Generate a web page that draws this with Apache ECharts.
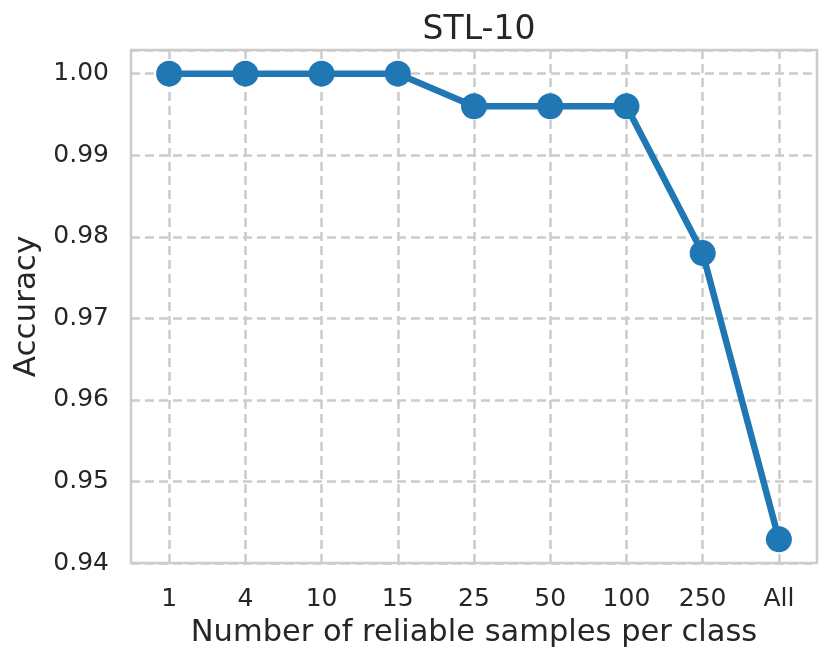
<!DOCTYPE html>
<html>
<head>
<meta charset="utf-8">
<script src="https://cdn.jsdelivr.net/npm/echarts@6/dist/echarts.min.js"></script>
<style>
  html, body { margin: 0; padding: 0; background: #fff; }
  #chart { width: 831px; height: 663px; }
</style>
</head>
<body>
<div id="chart"></div>
<script>
var categories = ['1', '4', '10', '15', '25', '50', '100', '250', 'All'];
var accuracy = [1.0, 1.0, 1.0, 1.0, 0.996, 0.996, 0.996, 0.978, 0.9429];
var yTicks = [0.94, 0.95, 0.96, 0.97, 0.98, 0.99, 1.00];

var chart = echarts.init(document.getElementById('chart'));
var textColor = '#262626';
var gridColor = '#cccccc';

var option = {
    backgroundColor: '#ffffff',
    textStyle: { fontFamily: 'DejaVu Sans' },
    title: {
        text: 'STL-10',
        left: 474,
        top: 9,
        textAlign: 'center',
        textStyle: { fontFamily: 'DejaVu Sans', fontSize: 33, fontWeight: 'normal', color: textColor }
    },
    grid: {
        left: 131,
        right: 14,
        top: 50,
        bottom: 100,
        show: true,
        borderColor: gridColor,
        borderWidth: 2.5
    },
    xAxis: {
        type: 'category',
        data: categories,
        boundaryGap: true,
        name: 'Number of reliable samples per class',
        nameLocation: 'middle',
        nameGap: 55,
        nameTextStyle: { fontSize: 30.5, color: textColor },
        axisLine: { show: false },
        axisTick: { show: false, alignWithLabel: true },
        axisLabel: { fontSize: 25, color: textColor, margin: 24 },
        splitLine: {
            show: true,
            alignWithLabel: true,
            lineStyle: { color: gridColor, width: 2.5, type: [9, 5] }
        }
    },
    yAxis: {
        type: 'value',
        min: yTicks[0],
        max: 1.0029,
        interval: 0.01,
        name: 'Accuracy',
        nameLocation: 'middle',
        nameRotate: 90,
        nameGap: 82,
        nameTextStyle: { fontSize: 31, color: textColor },
        axisLine: { show: false },
        axisTick: { show: false },
        axisLabel: {
            fontSize: 25,
            color: textColor,
            margin: 22,
            formatter: function (v) {
                return v > 1.0005 ? '' : v.toFixed(2);
            }
        },
        splitLine: {
            show: true,
            lineStyle: { color: gridColor, width: 2.5, type: [9, 5] }
        }
    },
    series: [
        {
            type: 'line',
            data: accuracy,
            symbol: 'circle',
            symbolSize: 26,
            showAllSymbol: true,
            clip: false,
            itemStyle: { color: '#1f77b4' },
            lineStyle: { color: '#1f77b4', width: 6.5 },
            emphasis: { disabled: true },
            z: 5
        }
    ]
};

chart.setOption(option);
</script>
</body>
</html>
